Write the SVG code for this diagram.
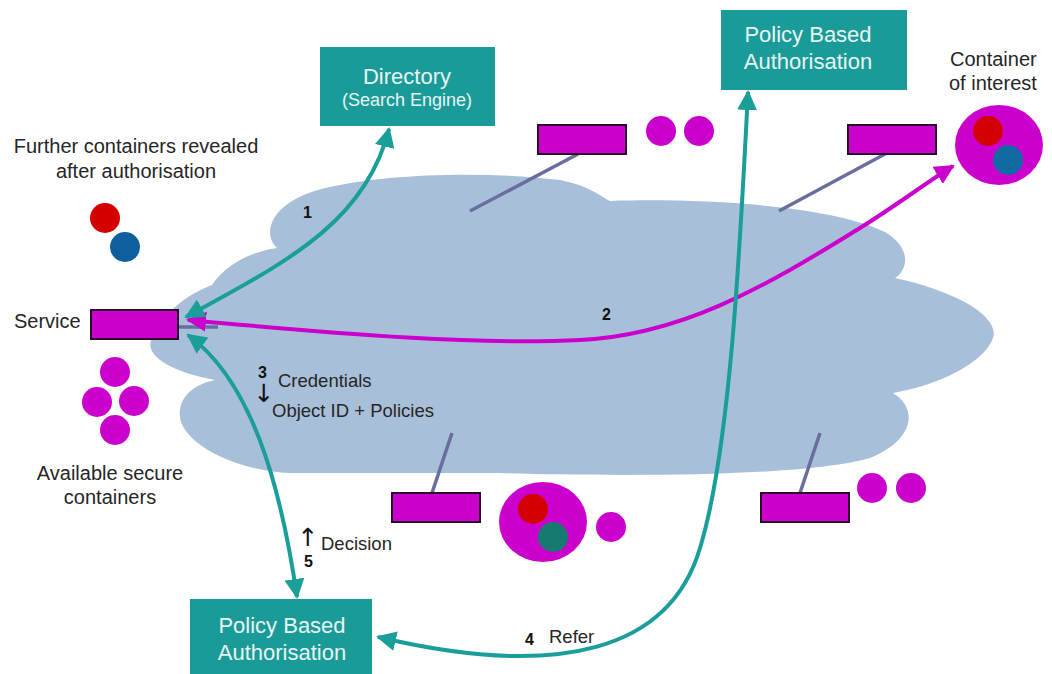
<svg xmlns="http://www.w3.org/2000/svg" width="1052" height="674" viewBox="0 0 1052 674">
<style>
text{font-family:"Liberation Sans",Arial,"DejaVu Sans",sans-serif;fill:#262626}
.box{fill:#1b9b98}
.bt{fill:#e6f5f4;font-size:22px;text-anchor:middle}
.lbl{font-size:20px}
.sm{font-size:18.5px}
.num{font-size:16px;font-weight:bold;fill:#111}
.arr{font-family:"DejaVu Sans",sans-serif;font-size:25px;fill:#111;text-anchor:middle}
.rect{fill:#cc00cc;stroke:#2a0a2a;stroke-width:2}
.mag{fill:#cc00cc}
.stub{stroke:#6a6e9e;stroke-width:3.5;fill:none}
.teal{stroke:#1a9e9a;stroke-width:4;fill:none}
.pink{stroke:#cc00cc;stroke-width:4;fill:none}
</style>
<defs>
<marker id="ht" viewBox="0 0 10 10" refX="9" refY="5" markerWidth="20" markerHeight="20" markerUnits="userSpaceOnUse" orient="auto-start-reverse"><path d="M0,0 L10,5 L0,10 Z" fill="#1a9e9a"/></marker>
<marker id="hp" viewBox="0 0 10 10" refX="9" refY="5" markerWidth="20" markerHeight="20" markerUnits="userSpaceOnUse" orient="auto-start-reverse"><path d="M0,0 L10,5 L0,10 Z" fill="#cc00cc"/></marker>
</defs>

<g id="cloud">
<path fill="#a8bfd9" d="M 277,248 C 262,235 268,200 330,187 C 380,175 480,170 560,180 C 590,186 600,196 610,201 C 700,198 830,205 885,232 C 912,248 908,270 895,278 C 960,292 1000,318 993,338 C 985,362 940,385 893,393 C 918,408 915,440 870,458 C 800,478 600,476 500,473 L 290,473 C 230,470 175,440 180,410 C 182,392 200,383 215,380 C 170,372 143,355 152,338 C 162,315 185,295 212,285 C 225,265 250,252 277,248 Z"/>
</g>

<g id="stubs">
<line class="stub" x1="178" y1="327" x2="218" y2="327"/>
<line class="stub" x1="578" y1="154" x2="470" y2="211"/>
<line class="stub" x1="885" y1="154" x2="779" y2="211"/>
<line class="stub" x1="432" y1="493" x2="452" y2="433"/>
<line class="stub" x1="800" y1="493" x2="820" y2="433"/>
</g>

<g id="further-containers">
<text class="lbl" x="136" y="153" text-anchor="middle">Further containers revealed</text>
<text class="lbl" x="136" y="178" text-anchor="middle">after authorisation</text>
<circle cx="105" cy="218" r="15" fill="#d40000"/>
<circle cx="125" cy="247" r="15" fill="#0e5f9e"/>
</g>

<g id="service">
<text class="lbl" x="14" y="328">Service</text>
<rect class="rect" x="91" y="310" width="87" height="29"/>
</g>

<g id="available-containers">
<circle class="mag" cx="115" cy="372" r="15"/>
<circle class="mag" cx="97" cy="402" r="15"/>
<circle class="mag" cx="134" cy="401" r="15"/>
<circle class="mag" cx="115" cy="430" r="15"/>
<text class="lbl" x="110" y="480" text-anchor="middle">Available secure</text>
<text class="lbl" x="110" y="504" text-anchor="middle">containers</text>
</g>

<g id="directory">
<rect class="box" x="320" y="47" width="175" height="79"/>
<text class="bt" x="407" y="84">Directory</text>
<text class="bt" x="407" y="106" style="font-size:18px">(Search Engine)</text>
</g>

<g id="pba-top">
<rect class="box" x="721" y="10" width="186" height="80"/>
<text class="bt" x="808" y="42">Policy Based</text>
<text class="bt" x="808" y="69">Authorisation</text>
</g>

<g id="pba-bottom">
<rect class="box" x="190" y="599" width="182" height="80"/>
<text class="bt" x="282" y="633">Policy Based</text>
<text class="bt" x="282" y="660">Authorisation</text>
</g>

<g id="container-top-middle">
<rect class="rect" x="538" y="125" width="88" height="29"/>
<circle class="mag" cx="661" cy="131" r="15"/>
<circle class="mag" cx="699" cy="131" r="15"/>
</g>

<g id="container-of-interest">
<text class="lbl" x="950" y="66">Container</text>
<text class="lbl" x="949" y="90">of interest</text>
<rect class="rect" x="848" y="125" width="88" height="29"/>
<ellipse class="mag" cx="999" cy="145" rx="44" ry="40"/>
<circle cx="988" cy="131" r="15" fill="#d40000"/>
<circle cx="1008" cy="160" r="15" fill="#0e6aa0"/>
</g>

<g id="container-bottom-left">
<rect class="rect" x="392" y="493" width="88" height="29"/>
<ellipse class="mag" cx="543" cy="522" rx="44" ry="40"/>
<circle cx="533" cy="509" r="15" fill="#d40000"/>
<circle cx="553" cy="537" r="15" fill="#167a70"/>
<circle class="mag" cx="611" cy="527" r="15"/>
</g>

<g id="container-bottom-right">
<rect class="rect" x="761" y="493" width="88" height="29"/>
<circle class="mag" cx="872" cy="488" r="15"/>
<circle class="mag" cx="911" cy="488" r="15"/>
</g>

<g id="connectors">
<path class="pink" d="M 188,320 C 350,335 480,345 580,340 C 680,335 760,290 860,228 C 900,203 930,180 953,166" marker-start="url(#hp)" marker-end="url(#hp)"/>
<path class="teal" d="M 186,317 C 280,265 365,225 389,129" marker-start="url(#ht)" marker-end="url(#ht)"/>
<path class="teal" d="M 188,335 C 250,380 280,480 297,597" marker-start="url(#ht)" marker-end="url(#ht)"/>
<path class="teal" d="M 748,92 C 740,250 730,450 700,548 C 670,650 560,680 378,637" marker-start="url(#ht)" marker-end="url(#ht)"/>
</g>

<g id="labels">
<text class="num" x="258" y="378">3</text>
<text class="arr" x="264" y="402">↓</text>
<text class="num" x="303" y="218">1</text>
<text class="num" x="602" y="320">2</text>
<text class="sm" x="278" y="387">Credentials</text>
<text class="sm" x="272" y="417">Object ID + Policies</text>
<text class="arr" x="308" y="546">↑</text>
<text class="sm" x="321" y="550">Decision</text>
<text class="num" x="304" y="567">5</text>
<text class="num" x="525" y="645">4</text>
<text class="sm" x="549" y="643">Refer</text>
</g>
</svg>
